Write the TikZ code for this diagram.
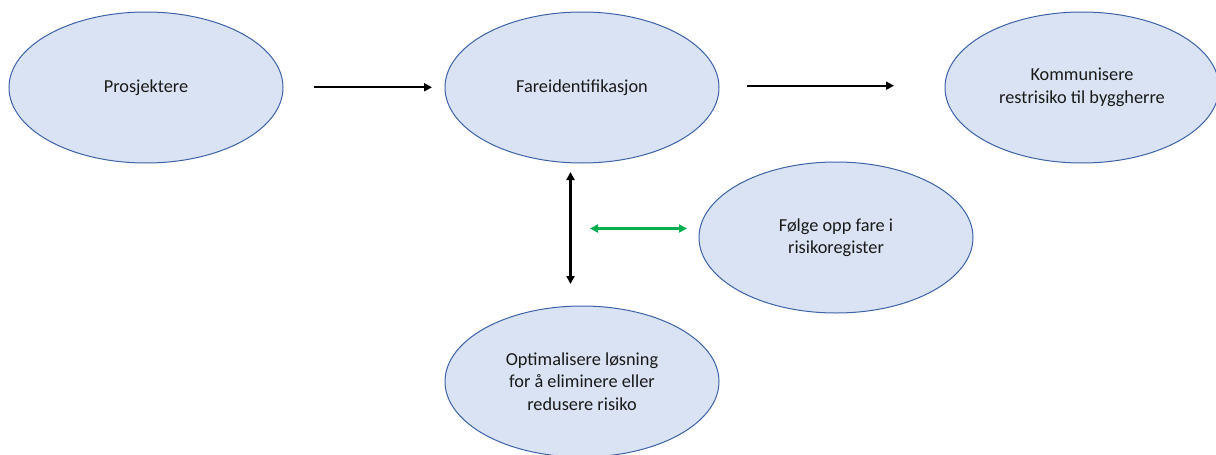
\documentclass[tikz,border=0pt]{standalone}
\usepackage{fontspec}
\setmainfont{Carlito}
\usetikzlibrary{shapes.geometric,arrows.meta}
\definecolor{efill}{HTML}{DAE3F3}
\definecolor{eline}{HTML}{3C63A8}
\definecolor{txt}{HTML}{1A1A1A}
\definecolor{grn}{HTML}{00B050}
\tikzset{
  oval/.style={ellipse, draw=eline, fill=efill, line width=1pt,
    minimum width=274pt, minimum height=151pt, inner sep=0pt,
    align=center, text=txt, font=\fontsize{18.3}{22.5}\selectfont},
  conn/.style={line width=2.2pt, {Triangle[length=8pt,width=8pt]}-{Triangle[length=8pt,width=8pt]}},
  oneway/.style={line width=2.2pt, -{Triangle[length=8pt,width=8pt]}}
}
\begin{document}
\begin{tikzpicture}[x=1pt,y=1pt]
\useasboundingbox (0,0) rectangle (1216,-455);
\node[oval] (pro) at (146,-87.5) {Prosjektere};
\node[oval] (far) at (582,-87.5) {Fareidentifikasjon};
\node[oval] (kom) at (1082,-87.5) {Kommunisere\\restrisiko til byggherre};
\node[oval] (fol) at (836,-237.5) {Følge opp fare i\\risikoregister};
\node[oval] (opt) at (582,-381.5) {Optimalisere løsning\\for å eliminere eller\\redusere risiko};
\coordinate (a1s) at (314,-87.3);
\coordinate (a1e) at (432,-87.3);
\coordinate (a2s) at (747,-85.7);
\coordinate (a2e) at (894,-85.7);
\coordinate (vt) at (570.5,-172);
\coordinate (vb) at (570.5,-284);
\coordinate (gl) at (590,-228.5);
\coordinate (gr) at (687,-228.5);
\draw[oneway] (a1s) -- (a1e);
\draw[oneway] (a2s) -- (a2e);
\draw[conn] (vt) -- (vb);
\draw[conn, grn] (gl) -- (gr);
\end{tikzpicture}
\end{document}
